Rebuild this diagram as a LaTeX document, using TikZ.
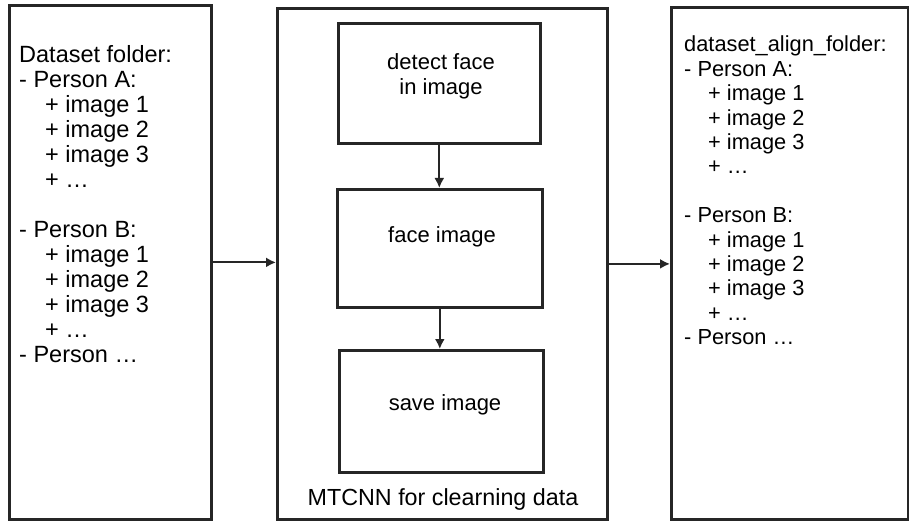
\documentclass[tikz,border=0pt]{standalone}
\usepackage{fontspec}
\setmainfont{Liberation Sans}
\usetikzlibrary{arrows.meta}
\begin{document}
\begin{tikzpicture}[x=1pt,y=-1pt,
  frame/.style={draw=black!85, line width=2.8pt, inner sep=0pt, anchor=north west},
  stage/.style={draw=black!85, line width=2.6pt, inner sep=0pt, anchor=north west},
  flow/.style={draw=black!85, line width=1.9pt, -{Latex[length=10pt,width=10pt]}},
  listing/.style={align=left, inner sep=0pt, anchor=north west},
  caption/.style={inner sep=0pt, font=\fontsize{22}{26}\selectfont}]
\useasboundingbox[fill=white] (0,0) rectangle (909,521);

% outer frames
\node[frame, minimum width=202pt, minimum height=514pt] (src) at (8,4) {};
\node[frame, minimum width=330pt, minimum height=511pt] (mid) at (276,7) {};
\node[frame, minimum width=237pt, minimum height=512pt] (dst) at (670,6) {};

% processing steps
\node[stage, minimum width=202pt, minimum height=120pt] (detect) at (337,22) {};
\node[stage, minimum width=205pt, minimum height=118pt] (face) at (336,188) {};
\node[stage, minimum width=204pt, minimum height=122pt] (save) at (338,349) {};

\node[caption, align=center, font=\fontsize{22}{25}\selectfont] (detecttxt) at (441,76) {detect face\\in image};
\node[caption] (facetxt) at (442,237) {face image};
\node[caption] (savetxt) at (445,405) {save image};
\node[caption, font=\fontsize{23.3}{26}\selectfont] (mtcnn) at (443,499) {MTCNN for clearning data};

% folder listings
\node[listing, font=\fontsize{23.5}{25}\selectfont] (srclist) at (19,45) {%
Dataset folder:\\
- Person A:\\
\hspace*{26pt}+ image 1\\
\hspace*{26pt}+ image 2\\
\hspace*{26pt}+ image 3\\
\hspace*{26pt}+ …\\[25pt]
- Person B:\\
\hspace*{26pt}+ image 1\\
\hspace*{26pt}+ image 2\\
\hspace*{26pt}+ image 3\\
\hspace*{26pt}+ …\\
- Person …};

\node[listing, font=\fontsize{21.8}{24.4}\selectfont] (dstlist) at (684,36) {%
dataset\_align\_folder:\\
- Person A:\\
\hspace*{24pt}+ image 1\\
\hspace*{24pt}+ image 2\\
\hspace*{24pt}+ image 3\\
\hspace*{24pt}+ …\\[24.4pt]
- Person B:\\
\hspace*{24pt}+ image 1\\
\hspace*{24pt}+ image 2\\
\hspace*{24pt}+ image 3\\
\hspace*{24pt}+ …\\
- Person …};

% connectors
\draw[flow] (src.east) -- (src.east -| mid.west);
\draw[flow] (mid.east) -- (mid.east -| dst.west);
\draw[flow] (detect.south) -- (detect.south |- face.north);
\draw[flow] (face.south) -- (face.south |- save.north);
\end{tikzpicture}
\end{document}
